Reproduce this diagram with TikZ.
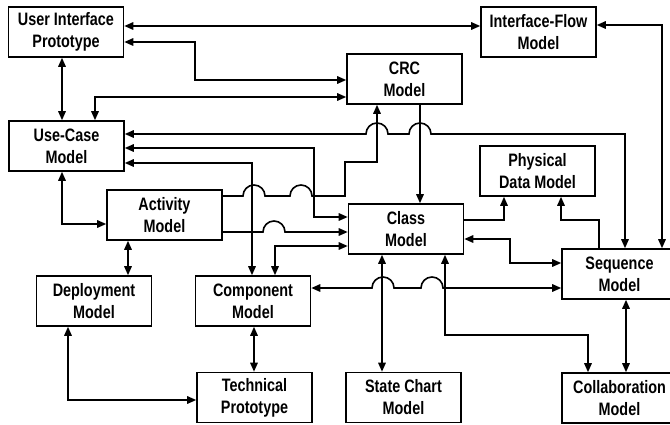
\documentclass[tikz,border=0pt]{standalone}
\usepackage{fontspec}
\setmainfont{Liberation Sans}[FakeStretch=0.8]
\usetikzlibrary{arrows.meta}

\begin{document}
\begin{tikzpicture}[x=1pt,y=-1pt,>={Triangle[length=9pt,width=7.5pt]},
  box/.style={draw,line width=1.6pt,minimum width=115pt,minimum height=50pt,
    inner sep=0pt,align=center,font=\fontsize{18}{22}\selectfont\bfseries},
  link/.style={line width=1.6pt}]
  \useasboundingbox (0,0) rectangle (670,424);
  % models
  \node[box] (uip) at (66,32) {User Interface\\Prototype};
  \node[box] (ifm) at (538.5,32) {Interface-Flow\\Model};
  \node[box] (crc) at (404.5,79) {CRC\\Model};
  \node[box] (ucm) at (66.5,146) {Use-Case\\Model};
  \node[box] (pdm) at (537.5,171) {Physical\\Data Model};
  \node[box] (act) at (164.5,215) {Activity\\Model};
  \node[box] (cls) at (406,229) {Class\\Model};
  \node[box] (seq) at (619.5,274) {Sequence\\Model};
  \node[box] (dep) at (94,301) {Deployment\\Model};
  \node[box] (cmp) at (253,301) {Component\\Model};
  \node[box] (tec) at (254.5,397.5) {Technical\\Prototype};
  \node[box] (stc) at (403.5,397.5) {State Chart\\Model};
  \node[box] (col) at (619.5,398) {Collaboration\\Model};
  % top part
  \draw[link,<->] (uip.east |- 0,26) -- (ifm.west |- 0,26);
  \draw[link,<->] (uip.east |- 0,42) -| (195,80) -- (crc.west |- 0,80);
  \draw[link,<->] (crc.west |- 0,97) -| (ucm.north -| 95,0);
  \draw[link,<->] (uip.south -| 62,0) -- (ucm.north -| 62,0);
  \draw[link,<->] (ucm.east |- 0,134) -- (366,134) arc[start angle=180,end angle=0,radius=11pt]
    -- (409,134) arc[start angle=180,end angle=0,radius=11pt] -- (625,134) -- (seq.north -| 625,0);
  \draw[link,<->] (ucm.east |- 0,148) -| (314,217) -- (cls.west |- 0,217);
  \draw[link,<->] (ucm.east |- 0,163) -| (cmp.north -| 252,0);
  \draw[link,<->] (ucm.south -| 62,0) |- (act.west |- 0,224);
  \draw[link,<->] (ifm.east |- 0,25) -| (seq.north -| 662,0);
  % middle part
  \draw[link,->] (act.east |- 0,196) -- (243,196) arc[start angle=180,end angle=0,radius=11pt]
    -- (290,196) arc[start angle=180,end angle=0,radius=11pt] -- (345,196) |- (377,162) -- (crc.south -| 377,0);
  \draw[link,->] (act.east |- 0,232) -- (263,232) arc[start angle=180,end angle=0,radius=11pt]
    -- (cls.west |- 0,232);
  \draw[link,<->] (cmp.north -| 275,0) |- (cls.west |- 0,246);
  \draw[link,->] (crc.south -| 420,0) -- (cls.north -| 420,0);
  \draw[link,->] (cls.east |- 0,220) -| (pdm.south -| 504,0);
  \draw[link,->] (seq.north -| 599,0) |- (561,220) -- (pdm.south -| 561,0);
  \draw[link,<->] (cls.east |- 0,239) -| (510,263) -- (seq.west |- 0,263);
  % bottom part
  \draw[link,<->] (cmp.east |- 0,288) -- (372,288) arc[start angle=180,end angle=0,radius=11pt]
    -- (421,288) arc[start angle=180,end angle=0,radius=11pt] -- (seq.west |- 0,288);
  \draw[link,<->] (cls.south -| 382,0) -- (stc.north -| 382,0);
  \draw[link,<->] (cls.south -| 445,0) |- (588,335) -- (col.north -| 588,0);
  \draw[link,<->] (seq.south -| 626,0) -- (col.north -| 626,0);
  \draw[link,<->] (act.south -| 128,0) -- (dep.north -| 128,0);
  \draw[link,<->] (cmp.south -| 254,0) -- (tec.north -| 254,0);
  \draw[link,<->] (dep.south -| 68,0) |- (tec.west |- 0,400);
\end{tikzpicture}
\end{document}
